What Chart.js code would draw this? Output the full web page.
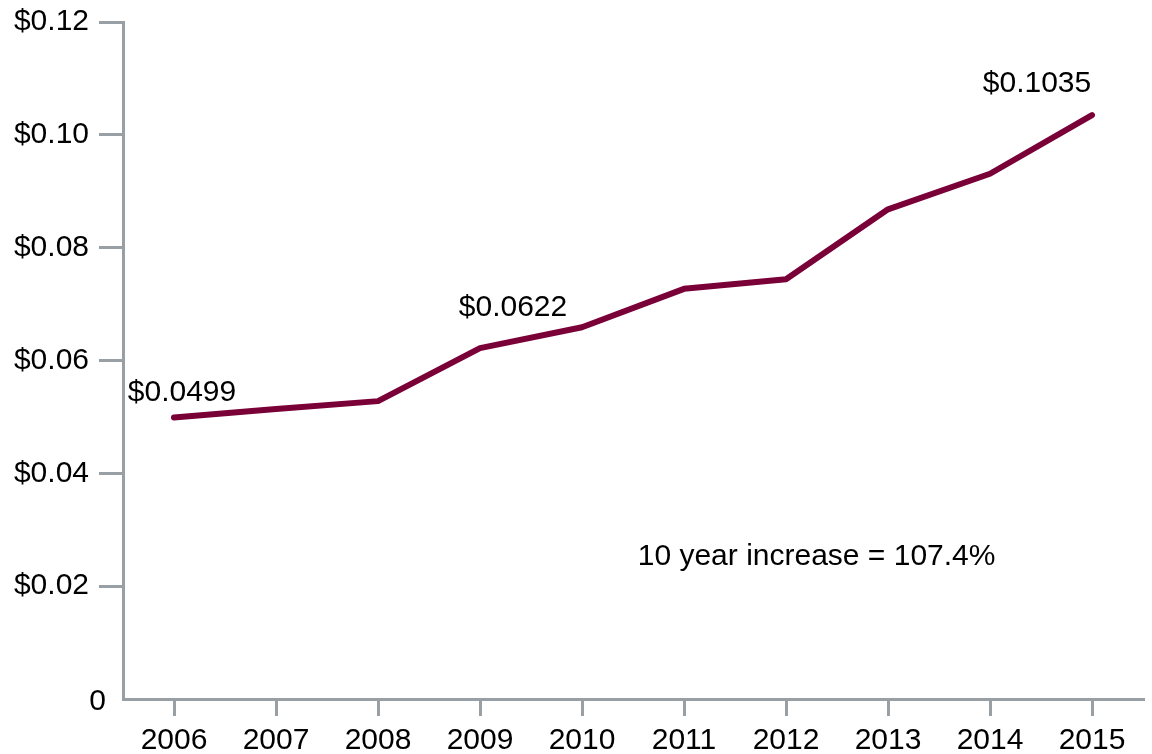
<!DOCTYPE html>
<html>
<head>
<meta charset="utf-8">
<script src="https://cdn.jsdelivr.net/npm/chart.js@4"></script>
<style>
  html, body { margin: 0; padding: 0; background: #fff; }
  #wrap { width: 1152px; height: 754px; }
</style>
</head>
<body>
<div id="wrap"><canvas id="price"></canvas></div>
<script>
const years = ["2006", "2007", "2008", "2009", "2010", "2011", "2012", "2013", "2014", "2015"];
const prices = [0.0499, 0.0514, 0.0528, 0.0622, 0.0659, 0.0727, 0.0744, 0.0868, 0.0931, 0.1035];
const yTicks = [0, 0.02, 0.04, 0.06, 0.08, 0.10, 0.12];

// which points get a price label, and how far the text sits from the point
const callouts = [
    { index: 0, dx: 8, dy: -25 },
    { index: 3, dx: 33, dy: -40 },
    { index: 9, dx: -55, dy: -31 }
];
const note = "10 year increase = 107.4%";

const axisGrey = "rgb(152,160,166)";
const lineColor = "rgb(122,0,56)";
const font = "Liberation Sans, Arial, sans-serif";

const labelPlugin = {
    id: "labels",
    afterDatasetsDraw(chart) {
        const ctx = chart.ctx;
        const x = chart.scales.x;
        const y = chart.scales.y;
        ctx.save();
        ctx.fillStyle = "#000";
        ctx.font = "30px " + font;
        ctx.textAlign = "center";
        ctx.textBaseline = "middle";
        callouts.forEach(c => {
            const v = prices[c.index];
            ctx.fillText("$" + v.toFixed(4), x.getPixelForValue(c.index) + c.dx, y.getPixelForValue(v) + c.dy);
        });
        ctx.fillText(note, x.getPixelForValue(6.3), y.getPixelForValue(0.0253));

        // zero label sits closer to the axis than the others
        ctx.textAlign = "right";
        ctx.fillText("0", x.left - 17, y.getPixelForValue(0) + 3);
        ctx.restore();
    }
};

const priceChart = new Chart(document.getElementById("price").getContext("2d"), {
    type: "line",
    data: {
        labels: years,
        datasets: [{
            data: prices,
            borderColor: lineColor,
            borderWidth: 6,
            borderCapStyle: "round",
            borderJoinStyle: "round",
            pointRadius: 0,
            tension: 0,
            fill: false
        }]
    },
    options: {
        responsive: true,
        maintainAspectRatio: false,
        animation: false,
        layout: {
            padding: { top: 22, right: 9, left: 0, bottom: 0 }
        },
        plugins: {
            legend: { display: false },
            tooltip: { enabled: false }
        },
        scales: {
            x: {
                offset: true,
                border: { color: axisGrey, width: 3 },
                grid: {
                    drawOnChartArea: false,
                    color: axisGrey,
                    lineWidth: 3,
                    tickLength: 17,
                    offset: false
                },
                ticks: {
                    color: "#000",
                    font: { family: font, size: 30 },
                    padding: 7,
                    maxRotation: 0
                },
                afterFit(scale) { scale.height = 55; }
            },
            y: {
                min: 0,
                max: 0.12,
                afterBuildTicks(scale) {
                    scale.ticks = yTicks.map(v => ({ value: v }));
                },
                border: { color: axisGrey, width: 3 },
                grid: {
                    drawOnChartArea: false,
                    color: ctx => ctx.tick && ctx.tick.value === 0 ? "rgba(0,0,0,0)" : axisGrey,
                    lineWidth: 3,
                    tickLength: 24
                },
                ticks: {
                    color: "#000",
                    font: { family: font, size: 30, lineHeight: 0.8 },
                    padding: 10,
                    callback: v => v === 0 ? "" : "$" + v.toFixed(2)
                },
                afterFit(scale) { scale.width = 123; }
            }
        }
    },
    plugins: [labelPlugin]
});
</script>
</body>
</html>
